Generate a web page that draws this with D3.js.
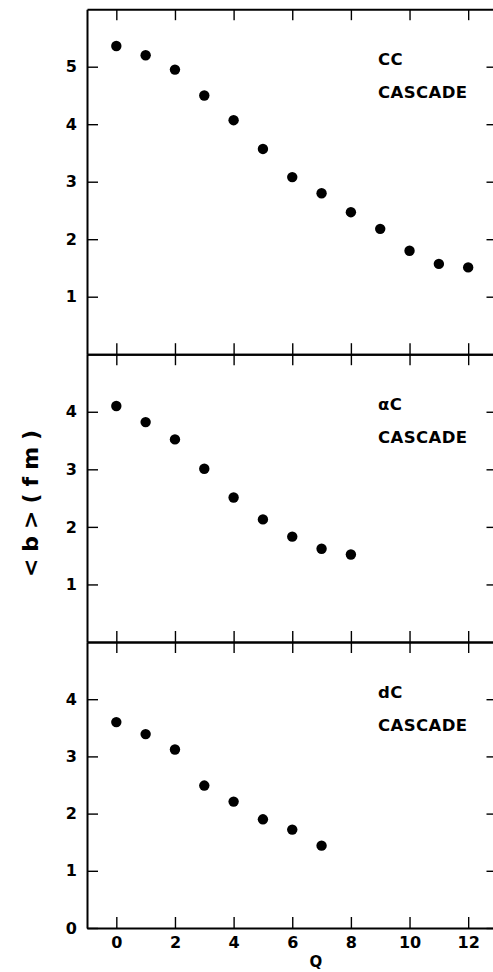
<!DOCTYPE html>
<html>
<head>
<meta charset="utf-8">
<script src="https://cdn.jsdelivr.net/npm/d3@7"></script>
<style>
  body { margin: 0; background: #fff; }
  svg { display: block; font-family: "DejaVu Sans", sans-serif; font-weight: bold; }
</style>
</head>
<body>
<div class="wrapper"></div>
<script>
const w = 493
const h = 972

// Q values and mean impact parameter <b> (fm)
const qCC = [0, 1, 2, 3, 4, 5, 6, 7, 8, 9, 10, 11, 12]
const bCC = [5.36, 5.2, 4.95, 4.5, 4.07, 3.57, 3.08, 2.8, 2.47, 2.18, 1.8, 1.57, 1.51]
const qAC = [0, 1, 2, 3, 4, 5, 6, 7, 8]
const bAC = [4.1, 3.82, 3.52, 3.01, 2.51, 2.13, 1.83, 1.62, 1.52]
const qDC = [0, 1, 2, 3, 4, 5, 6, 7]
const bDC = [3.6, 3.39, 3.12, 2.49, 2.21, 1.9, 1.72, 1.44]

const xTicks = [0, 2, 4, 6, 8, 10, 12]
const yTicksCC = [1, 2, 3, 4, 5]
const yTicksAC = [1, 2, 3, 4]
const yTicksDC = [0, 1, 2, 3, 4]
const labelsCC = ["CC", "CASCADE"]
const labelsAC = ["\u03b1C", "CASCADE"]
const labelsDC = ["dC", "CASCADE"]

const xScale = d3.scaleLinear().domain([-1, 13]).range([87, 497.5])
const tick = 11

const svg = d3.select(".wrapper")
  .append("svg")
  .attr("width", w)
  .attr("height", h)

const panels = [
  { q: qCC, b: bCC, ticks: yTicksCC, labels: labelsCC, top: 9.2, bottom: 354.2, ymax: 6, lastRow: false },
  { q: qAC, b: bAC, ticks: yTicksAC, labels: labelsAC, top: 354.2, bottom: 642, ymax: 5, lastRow: false },
  { q: qDC, b: bDC, ticks: yTicksDC, labels: labelsDC, top: 642, bottom: 928, ymax: 5, lastRow: true }
]

panels.forEach((p) => {
  const yScale = d3.scaleLinear().domain([0, p.ymax]).range([p.bottom, p.top])
  const g = svg.append("g")

  g.append("g")
    .attr("class", "axis")
    .attr("transform", "translate(" + xScale.range()[0] + ",0)")
    .call(d3.axisLeft(yScale).tickValues(p.ticks).tickSize(-tick).tickSizeOuter(0).tickPadding(10).tickFormat(d3.format("d")))

  g.append("g")
    .attr("class", "axis")
    .attr("transform", "translate(" + xScale.range()[1] + ",0)")
    .call(d3.axisRight(yScale).tickValues(p.ticks).tickSize(-tick).tickSizeOuter(0).tickFormat(""))

  g.append("g")
    .attr("class", "axis")
    .attr("transform", "translate(0," + p.top + ")")
    .call(d3.axisTop(xScale).tickValues(xTicks).tickSize(-tick).tickSizeOuter(0).tickFormat(""))

  g.append("g")
    .attr("class", "axis")
    .attr("transform", "translate(0," + p.bottom + ")")
    .call(d3.axisBottom(xScale).tickValues(xTicks).tickSize(-tick).tickSizeOuter(0).tickPadding(9)
      .tickFormat(p.lastRow ? d3.format("d") : ""))

  g.selectAll("circle")
    .data(p.q)
    .enter()
    .append("circle")
    .attr("cx", (d) => xScale(d))
    .attr("cy", (d, i) => yScale(p.b[i]))
    .attr("r", 5.2)
    .attr("fill", "#000")

  g.selectAll("text.lab")
    .data(p.labels)
    .enter()
    .append("text")
    .attr("class", "lab")
    .attr("x", 378)
    .attr("y", (d, i) => p.top + 56 + i * 33)
    .attr("font-size", 16.5)
    .attr("letter-spacing", 0.4)
    .text((d) => d)
})

svg.selectAll(".axis path.domain")
  .attr("stroke", "#000")
  .attr("stroke-width", 2)
svg.selectAll(".axis line")
  .attr("stroke", "#000")
  .attr("stroke-width", 1.4)
svg.selectAll(".axis text")
  .attr("font-family", "DejaVu Sans")
  .attr("font-weight", "bold")
  .attr("font-size", 16)
  .attr("fill", "#000")

svg.append("text")
  .attr("x", 316)
  .attr("y", 967)
  .attr("text-anchor", "middle")
  .attr("font-size", 15)
  .text("Q")

svg.append("text")
  .attr("transform", "translate(38,500) rotate(-90)")
  .attr("text-anchor", "middle")
  .attr("font-size", 22)
  .attr("letter-spacing", 7)
  .text("<b>(fm)")
</script>
</body>
</html>
